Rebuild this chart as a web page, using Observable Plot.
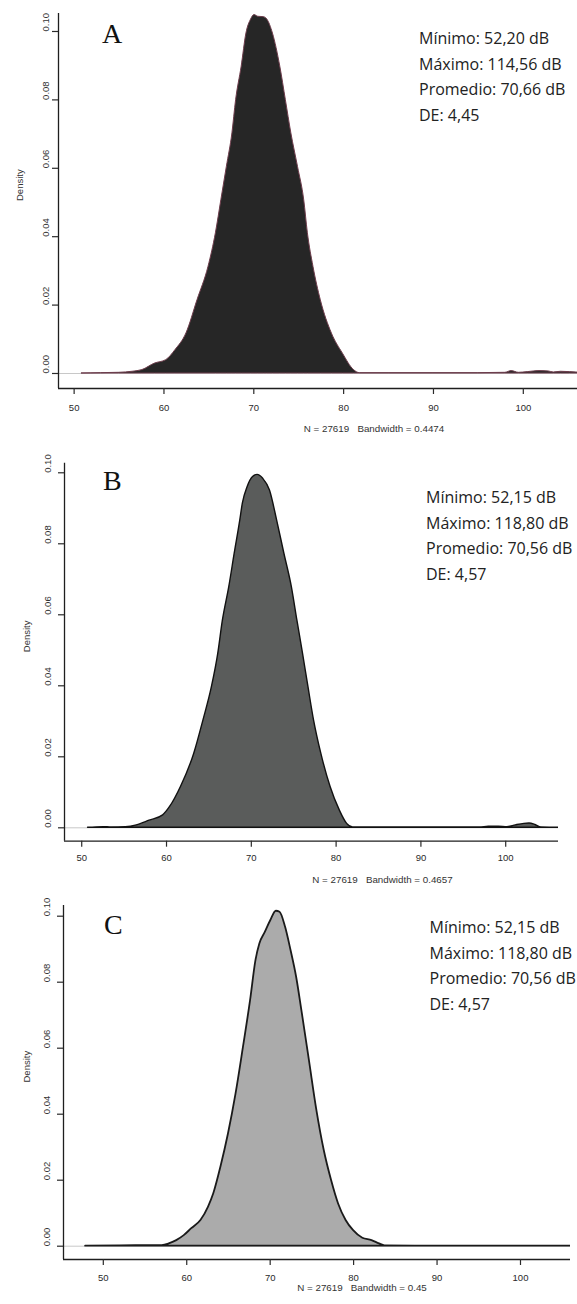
<!DOCTYPE html>
<html><head><meta charset="utf-8">
<script src="https://cdn.jsdelivr.net/npm/d3@7"></script>
<script src="https://cdn.jsdelivr.net/npm/@observablehq/plot@0.6"></script>
<style>
html,body{margin:0;padding:0;background:#fff;overflow:hidden;}
#page{position:relative;width:577px;height:1304px;overflow:hidden;background:#fff;}
.panel{position:absolute;left:0;overflow:hidden;}
.panel svg{white-space:pre;max-width:none !important;}
.stats{position:absolute;font-family:"Open Sans";font-size:16px;line-height:25.5px;color:#222;white-space:pre;}
.letter{position:absolute;font-family:"Liberation Serif";font-size:28px;line-height:28px;color:#111;}
</style></head><body><div id="page"></div>
<script>
// ---- data ----
const xTicks = [50, 60, 70, 80, 90, 100];
const yTicks = [0, 0.02, 0.04, 0.06, 0.08, 0.10];
const yTickLabels = ["0.00", "0.02", "0.04", "0.06", "0.08", "0.10"];
const yLabel = "Density";
const panelLetters = ["A", "B", "C"];
const captions = ["N = 27619   Bandwidth = 0.4474", "N = 27619   Bandwidth = 0.4657", "N = 27619   Bandwidth = 0.45"];
const statsA = ["Mínimo: 52,20 dB", "Máximo: 114,56 dB", "Promedio: 70,66 dB", "DE: 4,45"];
const statsB = ["Mínimo: 52,15 dB", "Máximo: 118,80 dB", "Promedio: 70,56 dB", "DE: 4,57"];
const statsC = ["Mínimo: 52,15 dB", "Máximo: 118,80 dB", "Promedio: 70,56 dB", "DE: 4,57"];

const densityA_x = [50.86, 53, 55, 56.5, 57.6, 59.0, 60.25, 61.27, 62.5, 63.73, 64.96, 65.78, 66.39, 67.0, 67.62, 68.03, 68.65, 69.18, 69.7, 70.08, 70.5, 71.1, 71.5, 72.13, 72.95, 73.57, 74.18, 74.92, 75.61, 76.02, 76.64, 77.46, 78.69, 79.92, 81.15, 81.8, 85, 90, 95, 98, 98.7, 99.5, 100.5, 101.8, 102.8, 103.4, 104.2, 105.2, 106.5, 110, 115.9];
const densityA_y = [0, 0.0001, 0.0002, 0.0005, 0.001, 0.0029, 0.0039, 0.0068, 0.0117, 0.0214, 0.0312, 0.041, 0.0507, 0.0604, 0.0702, 0.0799, 0.0897, 0.0994, 0.1035, 0.1048, 0.1043, 0.1042, 0.1035, 0.0994, 0.0897, 0.0799, 0.0702, 0.0604, 0.0507, 0.041, 0.0312, 0.0214, 0.0117, 0.0058, 0.001, 0.0001, 0.0001, 0.0001, 0.0001, 0.0002, 0.0007, 0.0002, 0.0004, 0.0007, 0.0006, 0.0003, 0.0005, 0.0004, 0.0002, 0.0001, 0];

const densityB_x = [50.75, 52.6, 53.5, 55.2, 56.5, 58.0, 59.6, 60.4, 61.7, 63.26, 64.35, 65.35, 66.1, 66.65, 67.4, 68.04, 68.7, 69.0, 69.57, 70.2, 70.74, 71.4, 72.2, 73.04, 73.9, 74.78, 75.43, 76.1, 76.74, 77.4, 78.26, 79.35, 80.43, 81.3, 82.0, 90, 97, 98, 99.2, 100.2, 101.2, 102.2, 102.8, 103.5, 104.2, 108, 120.2];
const densityB_y = [0, 0.0002, 0.0001, 0.0002, 0.0007, 0.002, 0.0035, 0.0058, 0.0115, 0.0208, 0.0302, 0.0396, 0.049, 0.0584, 0.0678, 0.0772, 0.0866, 0.0913, 0.096, 0.0988, 0.0994, 0.0983, 0.095, 0.0866, 0.0772, 0.0678, 0.0584, 0.049, 0.0396, 0.0302, 0.0208, 0.0115, 0.0049, 0.0011, 0.0001, 0.0001, 0.0001, 0.0003, 0.0003, 0.0002, 0.0007, 0.0011, 0.0012, 0.0008, 0.0001, 0, 0];

const densityC_x = [47.88, 52, 57.06, 57.9, 58.8, 59.7, 60.6, 61.7, 62.6, 63.24, 64.1, 65.0, 65.9, 66.8, 67.65, 68.3, 68.76, 69.4, 70.08, 70.74, 71.18, 71.84, 72.5, 73.17, 73.8, 74.7, 75.6, 76.48, 77.36, 78.2, 79.1, 80.0, 81.1, 82.2, 83.1, 83.76, 90, 114.13];
const densityC_y = [0, 0.0001, 0.0002, 0.0007, 0.0017, 0.0032, 0.0053, 0.0078, 0.0118, 0.0159, 0.024, 0.034, 0.046, 0.0603, 0.0744, 0.0866, 0.0916, 0.095, 0.0987, 0.1015, 0.1012, 0.0967, 0.0896, 0.0815, 0.0714, 0.0563, 0.0411, 0.029, 0.0199, 0.0128, 0.0078, 0.0047, 0.0024, 0.0017, 0.0007, 0.0001, 0, 0];

// ---- layout / style ----
const layouts = [
  {xs: densityA_x, ys: densityA_y, caption: captions[0], stats: statsA, letter: panelLetters[0],
   top: 0, clipWidth: 577, width: 689, marginLeft: 58, marginTop: 13, frameH: 375, marginBottom: 50,
   xDomain: [48.26, 118.5], yDomain: [-0.00439, 0.10526], tickPad: 9.4, ylabDx: -13, densDx: -39, capDy: 43,
   fill: "#262626", stroke: "#6e3d4c", sw: 1,
   statsPos: {left: 419, top: 26}, letterPos: {left: 102, top: 20}},
  {xs: densityB_x, ys: densityB_y, caption: captions[1], stats: statsB, letter: panelLetters[1],
   top: 440, clipWidth: 558, width: 700, marginLeft: 64, marginTop: 22.7, frameH: 378, marginBottom: 50,
   xDomain: [47.97, 122.97], yDomain: [-0.00377, 0.1027], tickPad: 6.7, ylabDx: -17, densDx: -38, capDy: 42.3,
   fill: "#5a5c5b", stroke: "#111", sw: 1.4,
   statsPos: {left: 426, top: 485}, letterPos: {left: 103, top: 466.6}},
  {xs: densityC_x, ys: densityC_y, caption: captions[2], stats: statsC, letter: panelLetters[2],
   top: 895, clipWidth: 570, width: 660, marginLeft: 63, marginTop: 10, frameH: 354, marginBottom: 45,
   xDomain: [45.23, 116.78], yDomain: [-0.00403, 0.10324], tickPad: 8.4, ylabDx: -16.5, densDx: -37, capDy: 31,
   fill: "#ababab", stroke: "#1a1a1a", sw: 1.8,
   statsPos: {left: 429.5, top: 915}, letterPos: {left: 104, top: 910.6}}
];

const page = document.getElementById("page");

for (const L of layouts) {
  const idx = d3.range(L.xs.length);
  const H = L.marginTop + L.frameH + L.marginBottom;
  const svg = Plot.plot({
    width: L.width,
    height: H,
    marginLeft: L.marginLeft, marginRight: 0, marginTop: L.marginTop, marginBottom: L.marginBottom,
    style: {fontFamily: "'Liberation Sans', Arial, sans-serif", fontSize: "9.5px", color: "#2a2a2a", background: "transparent", maxWidth: "none"},
    x: {domain: L.xDomain},
    y: {domain: L.yDomain},
    marks: [
      Plot.ruleY([0], {stroke: "#c8c8c8", strokeWidth: 1}),
      Plot.areaY(idx, {x: i => L.xs[i], y: i => L.ys[i], fill: L.fill, stroke: L.stroke, strokeWidth: L.sw, curve: "monotone-x"}),
      Plot.ruleX([L.xDomain[0]], {stroke: "#1e1e1e", strokeWidth: 1.3}),
      Plot.ruleY([L.yDomain[0]], {stroke: "#1e1e1e", strokeWidth: 1.3}),
      Plot.axisX({ticks: xTicks, tickSize: 6, tickPadding: L.tickPad, tickFormat: d => String(d), label: null, strokeWidth: 1.2}),
      Plot.axisY({ticks: yTicks, tickSize: 6, tickFormat: () => "", label: null, strokeWidth: 1.2}),
      Plot.text(yTicks, {y: d => d, text: (d, i) => yTickLabels[i], frameAnchor: "left", dx: L.ylabDx, rotate: -90, fontSize: 9.5, fill: "#333"}),
      Plot.text([yLabel], {frameAnchor: "left", dx: L.densDx, rotate: -90, fontSize: 9.5, fill: "#333"}),
      Plot.text([L.caption], {frameAnchor: "bottom", dy: L.capDy, fontSize: 9.8, fill: "#333"})
    ]
  });
  svg.style.maxWidth = "none";
  svg.setAttribute("width", L.width);
  svg.setAttribute("height", H);
  svg.style.width = L.width + "px";
  svg.style.height = H + "px";
  const wrap = document.createElement("div");
  wrap.className = "panel";
  wrap.style.top = L.top + "px";
  wrap.style.width = L.clipWidth + "px";
  wrap.style.height = H + "px";
  wrap.appendChild(svg);
  page.appendChild(wrap);

  const st = document.createElement("div");
  st.className = "stats";
  st.style.left = L.statsPos.left + "px";
  st.style.top = L.statsPos.top + "px";
  st.textContent = L.stats.join("\n");
  page.appendChild(st);

  const lt = document.createElement("div");
  lt.className = "letter";
  lt.style.left = L.letterPos.left + "px";
  lt.style.top = L.letterPos.top + "px";
  lt.textContent = L.letter;
  page.appendChild(lt);
}
</script></body></html>
